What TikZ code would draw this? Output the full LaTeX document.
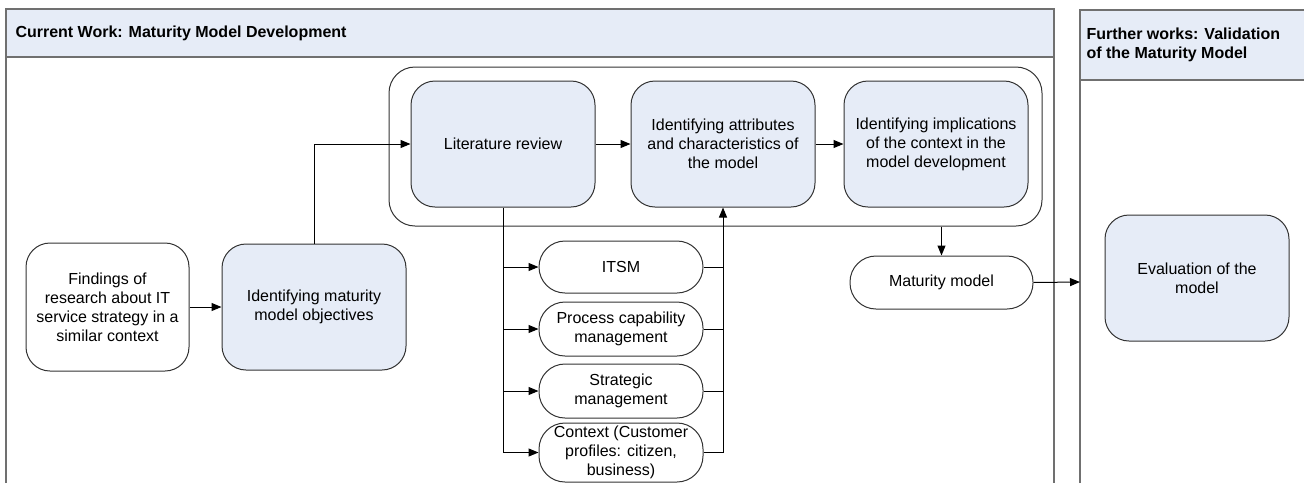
\documentclass[tikz,border=0pt]{standalone}
\usepackage{fontspec}
\setmainfont{Liberation Sans}
\usetikzlibrary{arrows.meta}
\definecolor{laneblue}{HTML}{E6ECF7}
\definecolor{laneline}{HTML}{707070}
\definecolor{boxline}{HTML}{333333}

\begin{document}
\begin{tikzpicture}[x=1pt,y=-1pt,font=\fontsize{16}{19}\selectfont,
    stepbox/.style={draw=boxline,line width=1pt,rounded corners=24pt,align=center,inner sep=2pt,
      minimum width=184pt,minimum height=126pt,fill=laneblue},
    whitebox/.style={stepbox,fill=white,minimum width=163pt,minimum height=128pt},
    topicbox/.style={draw=boxline,line width=1pt,rounded corners=26pt,align=center,inner sep=0pt,
      fill=white,minimum width=164pt,minimum height=54pt},
    lanetitle/.style={font=\fontsize{16}{19}\selectfont\bfseries,anchor=west,align=left},
    flow/.style={-{Triangle[length=10pt,width=8pt]},line width=1pt,draw=black},
    wire/.style={line width=1pt,draw=black}]
  \useasboundingbox (0,0) rectangle (1304,483);

  % lanes
  \fill[laneblue] (6,9) rectangle (1054,57);
  \draw[laneline,line width=1.2pt] (6,483) -- (6,9) -- (1054,9) -- (1054,483);
  \draw[laneline,line width=1.2pt] (6,57) -- (1054,57);
  \node[lanetitle] (curlabel) at (12,33) {Current Work: Maturity Model Development};

  \fill[laneblue] (1080,10) rectangle (1304,80);
  \draw[laneline,line width=1.2pt] (1080,483) -- (1080,10) -- (1304,10);
  \draw[laneline,line width=1.2pt] (1080,80) -- (1304,80);
  \node[lanetitle] (furlabel) at (1083,45) {Further works: Validation\\of the Maturity Model};
  \coordinate (furedge) at (1080,282);

  % group of development steps
  \node[draw=boxline,line width=1pt,rounded corners=26pt,minimum width=653pt,minimum height=159pt] (devgroup) at (715.5,146.5) {};

  \node[whitebox] (findings) at (107.5,307) {Findings of\\research about IT\\service strategy in a\\similar context};
  \node[stepbox] (objectives) at (314,307) {Identifying maturity\\model objectives};
  \node[stepbox] (litreview) at (503,144) {Literature review};
  \node[stepbox] (attributes) at (723,144) {Identifying attributes\\and characteristics of\\the model};
  \node[stepbox] (implications) at (936,144) {Identifying implications\\of the context in the\\model development};

  \node[topicbox,minimum height=52pt] (itsm) at (621,267) {ITSM};
  \node[topicbox] (capability) at (621,329) {Process capability\\management};
  \node[topicbox] (strategic) at (621,391) {Strategic\\management};
  \node[topicbox,minimum height=59pt] (context) at (621,452.5) {Context (Customer\\profiles: citizen,\\business)};

  \node[topicbox,minimum width=183pt,minimum height=53pt] (matmodel) at (941.5,282.5) {Maturity model};
  \node[stepbox] (evaluation) at (1197,278) {Evaluation of the\\model};

  % connectors
  \draw[flow] (findings) -- (objectives);
  \draw[flow] (objectives.north) |- (litreview.west);
  \draw[flow] (litreview) -- (attributes);
  \draw[flow] (attributes) -- (implications);

  \draw[wire] (litreview.south) -- (litreview.south |- context.west);
  \foreach \topic in {itsm,capability,strategic,context}
    \draw[flow] (litreview.south |- \topic.west) -- (\topic.west);
  \foreach \topic in {itsm,capability,strategic}
    \draw[wire] (\topic.east) -- (\topic.east -| attributes.south);
  \draw[flow] (context.east) -| (attributes.south);

  \draw[flow] (matmodel.north |- devgroup.south) -- (matmodel.north);
  \draw[flow] (matmodel.east) -- (furedge);
\end{tikzpicture}
\end{document}
